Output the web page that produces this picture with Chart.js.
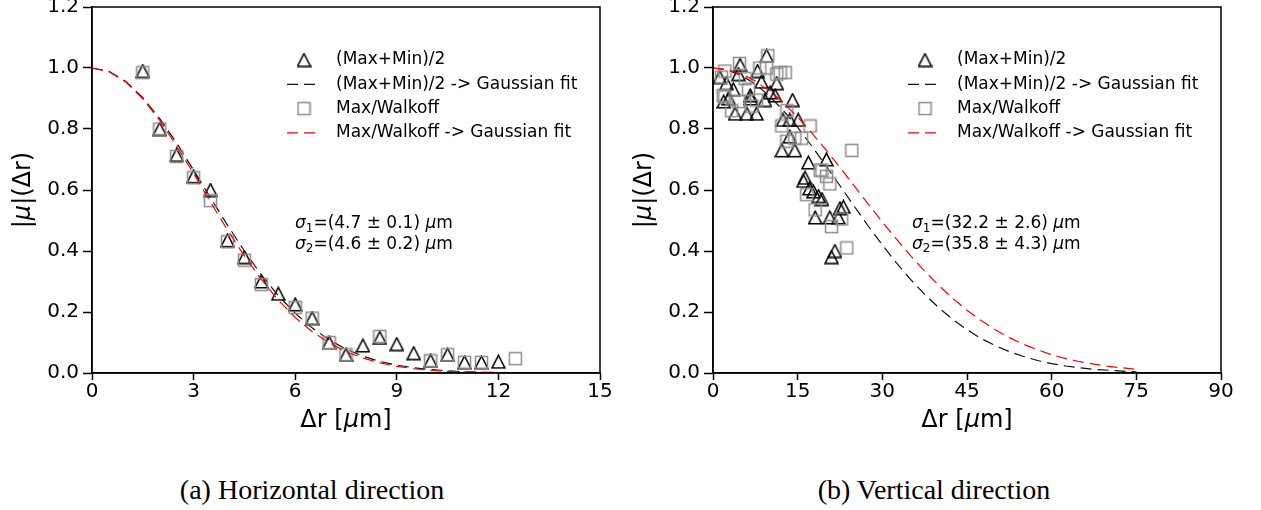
<!DOCTYPE html>
<html>
<head>
<meta charset="utf-8">
<script src="https://cdn.jsdelivr.net/npm/chart.js@4.4.1/dist/chart.umd.min.js"></script>
<style>
html, body { margin: 0; padding: 0; background: #fff; }
body { width: 1261px; height: 510px; position: relative; overflow: hidden; }
canvas { position: absolute; }
.cap { position: absolute; top: 474px; line-height: 32px; font-family: "Liberation Serif", serif; font-size: 28px; color: #000; white-space: nowrap; transform: translateX(-50%); }
</style>
</head>
<body>
<canvas id="hChart" width="640" height="460" style="left:0;top:-20px"></canvas>
<canvas id="vChart" width="641" height="460" style="left:620px;top:-20px"></canvas>
<div class="cap" style="left:312px">(a) Horizontal direction</div>
<div class="cap" style="left:934px">(b) Vertical direction</div>
<script>
// ---- data ----
const yTicks = [0, 0.2, 0.4, 0.6, 0.8, 1.0, 1.2];
const hTicksX = [0, 3, 6, 9, 12, 15];
const vTicksX = [0, 15, 30, 45, 60, 75, 90];

// (a) horizontal
const hTriX = [1.5, 2, 2.5, 3, 3.5, 4, 4.5, 5, 5.5, 6, 6.5, 7, 7.5, 8, 8.5, 9, 9.5, 10, 10.5, 11, 11.5, 12];
const hTriY = [0.99, 0.80, 0.715, 0.645, 0.60, 0.435, 0.38, 0.30, 0.26, 0.225, 0.18, 0.10, 0.06, 0.09, 0.115, 0.095, 0.065, 0.04, 0.06, 0.035, 0.035, 0.037];
const hSqX = [1.5, 2, 2.5, 3, 3.5, 4, 4.5, 5, 6, 6.5, 7, 7.5, 8.5, 10, 10.5, 11, 11.5, 12.5];
const hSqY = [0.985, 0.80, 0.71, 0.64, 0.565, 0.43, 0.37, 0.29, 0.215, 0.18, 0.10, 0.06, 0.12, 0.04, 0.06, 0.035, 0.035, 0.047];
const hFitX = [0, 0.5, 1, 1.5, 2, 2.5, 3, 3.5, 4, 4.5, 5, 5.5, 6, 6.5, 7, 7.5, 8, 8.5, 9, 9.5, 10, 10.5, 11, 11.5, 12];
const hFit1Y = [1.0, 0.989, 0.956, 0.903, 0.834, 0.754, 0.665, 0.574, 0.485, 0.400, 0.322, 0.254, 0.196, 0.148, 0.109, 0.078, 0.055, 0.038, 0.026, 0.017, 0.011, 0.007, 0.004, 0.0025, 0.0015];
const hFit2Y = [1.0, 0.988, 0.954, 0.899, 0.828, 0.744, 0.654, 0.560, 0.469, 0.384, 0.307, 0.239, 0.182, 0.136, 0.099, 0.070, 0.049, 0.033, 0.022, 0.014, 0.009, 0.0055, 0.0033, 0.002, 0.001];

// (b) vertical
const vTriX = [1.2, 1.9, 2.4, 2.8, 3.6, 3.9, 4.5, 4.8, 6.0, 6.6, 6.7, 7.7, 7.9, 8.6, 9.2, 9.5, 10.1, 11.0, 11.3, 12.2, 12.4, 13.6, 13.6, 14.1, 14.5, 15.1, 16.0, 16.3, 16.9, 17.1, 17.8, 18.1, 18.7, 19.3, 20.1, 20.7, 21.0, 21.6, 22.2, 22.5, 23.1];
const vTriY = [0.97, 0.89, 0.95, 0.90, 0.93, 0.85, 0.98, 1.01, 0.85, 0.91, 0.90, 0.85, 0.99, 0.955, 0.895, 1.04, 0.92, 0.91, 0.95, 0.73, 0.83, 0.775, 0.83, 0.895, 0.73, 0.83, 0.63, 0.64, 0.69, 0.605, 0.595, 0.51, 0.58, 0.57, 0.70, 0.51, 0.38, 0.40, 0.51, 0.54, 0.545];
const vSqX = [1.5, 1.8, 2.1, 2.1, 3.3, 4.5, 4.7, 5.7, 6.3, 6.9, 7.7, 8.3, 9.5, 9.7, 11.3, 11.9, 12.8, 12.2, 13.1, 13.1, 14.5, 15.7, 16.6, 17.2, 18.1, 19.0, 19.3, 20.1, 20.7, 21.0, 22.8, 23.7, 24.6];
const vSqY = [0.97, 0.91, 0.99, 0.905, 0.86, 0.89, 1.015, 0.965, 0.93, 0.875, 0.895, 1.0, 1.0, 1.04, 0.98, 0.985, 0.985, 0.81, 0.86, 0.76, 0.77, 0.77, 0.585, 0.81, 0.535, 0.665, 0.665, 0.645, 0.62, 0.48, 0.505, 0.41, 0.73];
const vFitX = [0, 2.5, 5, 7.5, 10, 12.5, 15, 17.5, 20, 22.5, 25, 27.5, 30, 32.5, 35, 37.5, 40, 42.5, 45, 47.5, 50, 52.5, 55, 57.5, 60, 62.5, 65, 67.5, 70, 72.5, 75];
const vFit1Y = [1.0, 0.994, 0.976, 0.947, 0.908, 0.860, 0.805, 0.744, 0.680, 0.614, 0.547, 0.482, 0.420, 0.361, 0.307, 0.258, 0.214, 0.175, 0.142, 0.113, 0.090, 0.070, 0.054, 0.041, 0.031, 0.023, 0.017, 0.012, 0.009, 0.006, 0.004];
const vFit2Y = [1.0, 0.995, 0.981, 0.957, 0.925, 0.885, 0.839, 0.787, 0.732, 0.674, 0.614, 0.554, 0.495, 0.439, 0.385, 0.334, 0.287, 0.244, 0.206, 0.172, 0.142, 0.116, 0.094, 0.076, 0.060, 0.047, 0.037, 0.029, 0.022, 0.017, 0.012];

const labels = ['(Max+Min)/2', '(Max+Min)/2 -> Gaussian fit', 'Max/Walkoff', 'Max/Walkoff -> Gaussian fit'];
const hNotes = [
  [['σ', 'i'], ['1', 'sub'], ['=(4.7 ± 0.1) ', ''], ['μ', 'i'], ['m', '']],
  [['σ', 'i'], ['2', 'sub'], ['=(4.6 ± 0.2) ', ''], ['μ', 'i'], ['m', '']]
];
const vNotes = [
  [['σ', 'i'], ['1', 'sub'], ['=(32.2 ± 2.6) ', ''], ['μ', 'i'], ['m', '']],
  [['σ', 'i'], ['2', 'sub'], ['=(35.8 ± 4.3) ', ''], ['μ', 'i'], ['m', '']]
];
const xTitle = [['Δr [', ''], ['μ', 'i'], ['m]', '']];
const yTitle = [['|', ''], ['μ', 'i'], ['|(Δr)', '']];

// ---- marker images ----
const sans = '"DejaVu Sans", sans-serif';

function triMarker() {
  const c = document.createElement('canvas');
  c.width = 15; c.height = 15;
  const g = c.getContext('2d');
  g.strokeStyle = '#000'; g.lineWidth = 1.5;
  g.lineJoin = 'miter';
  g.beginPath(); g.moveTo(7.5, 1.2); g.lineTo(1, 13.8); g.lineTo(14, 13.8); g.closePath(); g.stroke();
  return c;
}
function sqMarker() {
  const c = document.createElement('canvas');
  c.width = 15; c.height = 15;
  const g = c.getContext('2d');
  g.strokeStyle = '#8c8c8c'; g.lineWidth = 1.5;
  g.strokeRect(1.5, 1.5, 12, 12);
  return c;
}
const triImg = triMarker();
const sqImg = sqMarker();

function pts(xs, ys) { return xs.map((x, i) => ({ x: x, y: ys[i] })); }

function drawRich(ctx, segs, x, y, size, align) {
  const fontOf = s => (s === 'i' ? 'italic ' : '') + (s === 'sub' ? Math.round(size * 0.7) : size) + 'px ' + sans;
  let w = 0;
  segs.forEach(([t, s]) => { ctx.font = fontOf(s); w += ctx.measureText(t).width; });
  let cx = align === 'center' ? x - w / 2 : x;
  ctx.textAlign = 'left';
  ctx.textBaseline = 'middle';
  segs.forEach(([t, s]) => {
    ctx.font = fontOf(s);
    ctx.fillText(t, cx, y + (s === 'sub' ? size * 0.28 : 0));
    cx += ctx.measureText(t).width;
  });
}

const decor = {
  id: 'decor',
  afterDraw(chart, args, o) {
    const ctx = chart.ctx, a = chart.chartArea;
    ctx.save();
    ctx.strokeStyle = '#000'; ctx.lineWidth = 1.5;
    ctx.strokeRect(a.left, a.top, a.right - a.left, a.bottom - a.top);
    ctx.fillStyle = '#000';
    drawRich(ctx, xTitle, (a.left + a.right) / 2, a.bottom + 48, 24, 'center');
    ctx.save();
    ctx.translate(a.left - 68, (a.top + a.bottom) / 2);
    ctx.rotate(-Math.PI / 2);
    drawRich(ctx, yTitle, 0, 0, 24, 'center');
    ctx.restore();

    o.notes.forEach((segs, i) => drawRich(ctx, segs, a.left + o.noteDx, a.top + 217 + i * 20.5, 17, 'left'));

    // legend
    chart.data.datasets.forEach((ds, i) => {
      const y = a.top + 53 + i * 24.3;
      if (ds.showLine) {
        ctx.save();
        ctx.strokeStyle = ds.borderColor; ctx.lineWidth = ds.borderWidth;
        ctx.setLineDash(ds.borderDash);
        ctx.beginPath(); ctx.moveTo(a.left + 195, y); ctx.lineTo(a.left + 229, y); ctx.stroke();
        ctx.restore();
      } else {
        const img = ds.pointStyle;
        ctx.drawImage(img, a.left + 212 - img.width / 2, y - img.height / 2);
      }
      ctx.fillStyle = '#000';
      ctx.font = '17px ' + sans;
      ctx.textAlign = 'left'; ctx.textBaseline = 'middle';
      ctx.fillText(ds.label, a.left + 244, y);
    });
    ctx.restore();
  }
};

function makeChart(id, c) {
  return new Chart(document.getElementById(id), {
    type: 'scatter',
    data: {
      datasets: [
        { label: labels[0], data: pts(c.triX, c.triY), pointStyle: triImg, showLine: false, order: 3 },
        { label: labels[1], data: pts(c.fitX, c.fit1Y), showLine: true, borderColor: '#111', borderWidth: 1.2,
          borderDash: [11, 6], pointRadius: 0, order: 2 },
        { label: labels[2], data: pts(c.sqX, c.sqY), pointStyle: sqImg, showLine: false, order: 1 },
        { label: labels[3], data: pts(c.fitX, c.fit2Y), showLine: true, borderColor: '#ff0000', borderWidth: 1.2,
          borderDash: [11, 6], pointRadius: 0, order: 0 }
      ]
    },
    options: {
      responsive: false,
      animation: false,
      layout: { padding: { top: 27, right: 40, left: 0, bottom: 0 } },
      plugins: { legend: { display: false }, tooltip: { enabled: false }, decor: { notes: c.notes, noteDx: c.noteDx } },
      scales: {
        x: {
          type: 'linear', min: 0, max: c.xMax,
          afterBuildTicks: s => { s.ticks = c.xTicks.map(v => ({ value: v })); },
          afterFit: s => { s.height = 67; },
          ticks: { callback: v => String(v), font: { family: sans, size: 20 }, color: '#000', padding: 0, maxRotation: 0 },
          grid: { drawOnChartArea: false, tickLength: 7, tickWidth: 1.5, tickColor: '#000' },
          border: { color: '#000', width: 1.5 }
        },
        y: {
          type: 'linear', min: 0, max: 1.2,
          afterBuildTicks: s => { s.ticks = yTicks.map(v => ({ value: v })); },
          afterFit: s => { s.width = c.yWidth; },
          ticks: { callback: v => v.toFixed(1), font: { family: sans, size: 20 }, color: '#000', padding: 4 },
          grid: { drawOnChartArea: false, tickLength: 9, tickWidth: 1.5, tickColor: '#000' },
          border: { color: '#000', width: 1.5 }
        }
      }
    },
    plugins: [decor]
  });
}

makeChart('hChart', {
  triX: hTriX, triY: hTriY, sqX: hSqX, sqY: hSqY, fitX: hFitX, fit1Y: hFit1Y, fit2Y: hFit2Y,
  xMax: 15, xTicks: hTicksX, yWidth: 92, notes: hNotes, noteDx: 203
});
makeChart('vChart', {
  triX: vTriX, triY: vTriY, sqX: vSqX, sqY: vSqY, fitX: vFitX, fit1Y: vFit1Y, fit2Y: vFit2Y,
  xMax: 90, xTicks: vTicksX, yWidth: 93, notes: vNotes, noteDx: 199
});
</script>
</body>
</html>
